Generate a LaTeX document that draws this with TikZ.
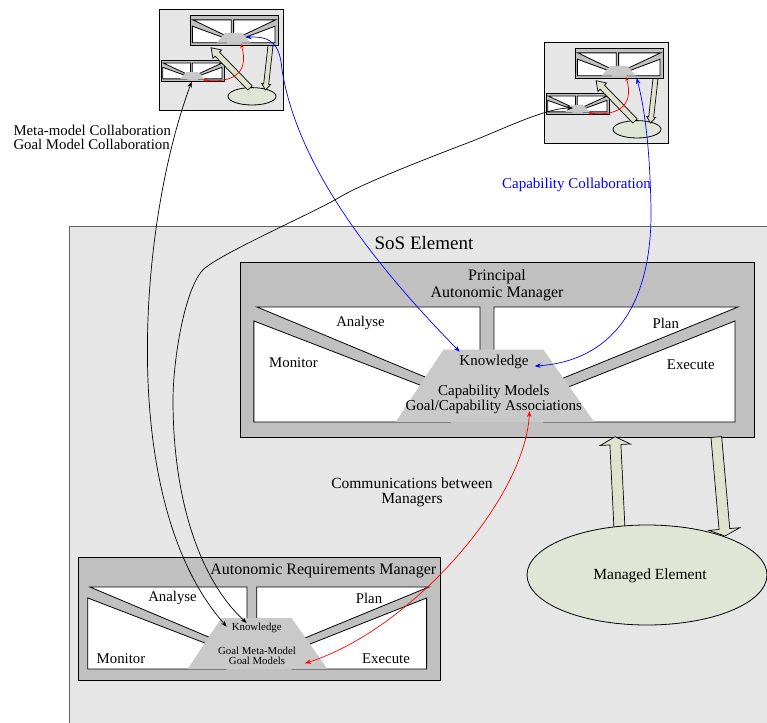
\documentclass[tikz,border=0pt]{standalone}
\usepackage{fontspec}
\setmainfont{Liberation Serif}
\usetikzlibrary{arrows.meta,shapes.geometric}
\definecolor{sosfill}{RGB}{230,230,230}
\definecolor{mgrfill}{RGB}{192,192,192}
\definecolor{trapfill}{RGB}{201,201,201}
\definecolor{elemfill}{RGB}{223,230,213}
\definecolor{barrowfill}{RGB}{223,227,205}
\definecolor{sosborder}{RGB}{100,100,100}
\tikzset{
  mgrbox/.style={fill=mgrfill, draw=black, line width=0.8pt},
  mgrwhite/.style={fill=white, draw=black, line width=0.8pt, line join=miter},
  trap/.style={fill=trapfill},
  bigarrow/.style={fill=barrowfill, draw=black, line width=0.7pt, line join=miter},
  link/.style={line width=0.7pt, {Stealth[length=6pt,width=4.5pt]}-{Stealth[length=6pt,width=4.5pt]}},
  minilink/.style={line width=0.7pt, {Stealth[length=4pt,width=3.5pt]}-{Stealth[length=4pt,width=3.5pt]}},
  txt/.style={inner sep=0pt, font=\fontsize{14.8}{17}\selectfont},
  ktxt/.style={inner sep=0pt, align=center, font=\fontsize{15}{14.4}\selectfont},
  stxt/.style={inner sep=0pt, align=center, font=\fontsize{10.8}{10.5}\selectfont},
  ttl/.style={inner sep=0pt, align=center, font=\fontsize{16}{16.6}\selectfont},
  elem/.style={fill=elemfill, draw=black, line width=0.8pt},
}
% manager: x0 y0 w h ya yb yk yc (fractions in percent)
\newcommand\mgr[8]{%
  \pgfmathsetmacro\msx{#3/100}\pgfmathsetmacro\msy{#4/100}%
  \pgfmathsetmacro\mA{#5}\pgfmathsetmacro\mB{#6}\pgfmathsetmacro\mK{#7}\pgfmathsetmacro\mC{#8}%
  \pgfmathsetmacro\mD{\mA+0.70*(\mC-\mA)}%
  \pgfmathsetmacro\mE{\mB+0.75*(\mC-\mB)}%
  \begin{scope}[shift={(#1,#2)},xscale=\msx,yscale=\msy]
    \filldraw[mgrbox] (0,0) rectangle (100,100);
    \filldraw[mgrwhite] (3.3,\mA) -- (46.7,\mA) -- (46.7,\mD) -- (40.9,\mD) -- cycle;
    \filldraw[mgrwhite] (2.7,\mB) -- (40.9,\mE) -- (40.9,\mC) -- (2.7,\mC) -- cycle;
    \filldraw[mgrwhite] (49.4,\mA) -- (96.9,\mA) -- (58.4,\mD) -- (49.4,\mD) -- cycle;
    \filldraw[mgrwhite] (96.3,\mB) -- (96.3,\mC) -- (59.1,\mC) -- (59.1,\mE) -- cycle;
    \fill[trap] (39.6,\mK) -- (59,\mK) -- (68.9,\mC) -- (30.3,\mC) -- cycle;
  \end{scope}}
% block arrow: x1 y1 x2 y2 shaft head headlen
\newcommand\barrow[7]{%
  \pgfmathsetmacro\bA{atan2(-(#4-#2),#3-#1)}%
  \pgfmathsetmacro\bL{veclen(#3-#1,#4-#2)}%
  \pgfmathsetmacro\bH{\bL-#7}%
  \begin{scope}[shift={(#1,#2)},rotate=\bA]
    \filldraw[bigarrow] (0,#5/2) -- (\bH,#5/2) -- (\bH,#6/2) -- (\bL,0) -- (\bH,-#6/2) -- (\bH,-#5/2) -- (0,-#5/2) -- cycle;
  \end{scope}}
\begin{document}
\begin{tikzpicture}[x=1pt,y=-1pt]
\useasboundingbox (0,0) rectangle (767,722);
\clip (0,0) rectangle (767,722);
\fill[white] (0,0) rectangle (767,722);

% SoS element
\filldraw[fill=sosfill, draw=sosborder, line width=1pt] (69,226) rectangle (790,740);
\node[inner sep=0pt, font=\fontsize{19}{20}\selectfont] (sos) at (424,243) {SoS Element};

% Principal autonomic manager
\mgr{240}{262}{514}{175}{25.7}{33.7}{50}{91.4}
\node[ttl] (pam) at (497,285) {Principal\\Autonomic Manager};
\node[txt] (pan) at (360.5,323.3) {Analyse};
\node[txt] (ppl) at (665.8,323.3) {Plan};
\node[txt] (pmo) at (293.5,362.7) {Monitor};
\node[txt] (pex) at (690.8,365) {Execute};
\node[ktxt] (pkn) at (494,361.7) {Knowledge};
\node[ktxt] (pcap) at (493.7,399.5) {Capability Models\\Goal/Capability Associations};

% Autonomic requirements manager
\mgr{78}{557}{362}{123}{24.4}{33.3}{49.6}{91}
\node[ttl] (arm) at (323.3,571) {Autonomic Requirements Manager};
\node[txt] (ran) at (172.5,598.3) {Analyse};
\node[txt] (rpl) at (369,598.3) {Plan};
\node[txt] (rmo) at (121,658.3) {Monitor};
\node[txt] (rex) at (386,658.3) {Execute};
\node[stxt] (rkn) at (256.7,628.3) {Knowledge};
\node[stxt] (rgoal) at (257,655.7) {Goal Meta-Model\\Goal Models};

% Managed element and its arrows
\barrow{619.5}{529}{615}{436.7}{11}{30}{8}
\barrow{716.3}{437}{725}{536}{10.7}{31}{7}
\node[elem, ellipse, minimum width=240pt, minimum height=100pt, inner sep=0pt] (me) at (647,575) {};
\node[inner sep=0pt, font=\fontsize{15.5}{17}\selectfont] (metxt) at (650,576) {Managed Element};

% mini diagram 1
\filldraw[fill=sosfill, draw=black, line width=0.8pt] (159,9) rectangle (283.3,110);
\mgr{190}{15.7}{88.3}{30}{14}{35}{58}{90}
\mgr{161}{60}{63.3}{21}{14}{35}{58}{90}
\node[elem, ellipse, minimum width=48pt, minimum height=17.4pt, inner sep=0pt] (e1) at (252,96.3) {};
\barrow{250}{88}{211}{47.7}{6}{12}{9}
\barrow{270.5}{45.7}{265.5}{90}{5}{9}{6}

% mini diagram 2
\filldraw[fill=sosfill, draw=black, line width=0.8pt] (544,42) rectangle (668,143.5);
\mgr{575}{48.7}{88.3}{30}{14}{35}{58}{90}
\mgr{546}{93}{63.3}{21}{14}{35}{58}{90}
\node[elem, ellipse, minimum width=48pt, minimum height=17.4pt, inner sep=0pt] (e2) at (637,129.3) {};
\barrow{635}{121}{596}{80.7}{6}{12}{9}
\barrow{655.5}{78.7}{650.5}{123}{5}{9}{6}

% labels
\node[inner sep=0pt, anchor=west, align=left, font=\fontsize{14.8}{14.3}\selectfont] (meta) at (13.3,137.2) {Meta-model Collaboration\\Goal Model Collaboration};
\node[inner sep=0pt, text=blue, font=\fontsize{15}{17}\selectfont] (capc) at (576.5,185) {Capability Collaboration};
\node[inner sep=0pt, align=center, font=\fontsize{15.5}{15.5}\selectfont] (comm) at (412,492.5) {Communications between\\Managers};

% connector end points
\coordinate (mk1) at (245.7,37.3);
\coordinate (pk1) at (459.7,351.7);
\coordinate (pk2) at (534.7,366);
\coordinate (mk2) at (636.7,78);
\coordinate (pk3) at (529.5,411);
\coordinate (rk3) at (305,663.3);
\coordinate (mk4) at (191.7,81.7);
\coordinate (rk4) at (226.7,626.7);
\coordinate (mk5) at (573,108);
\coordinate (rk5) at (246.7,623);
\coordinate (mr1a) at (241,44);
\coordinate (mr1b) at (203.3,80);
\coordinate (mr2a) at (626,77);
\coordinate (mr2b) at (588.3,113);

% connectors
\draw[link, blue] (mk1) .. controls (272,36) and (280,45) .. (282,70) .. controls (295,150) and (350,240) .. (pk1);
\draw[link, blue] (pk2) .. controls (600,362) and (652,320) .. (651,210) .. controls (650,150) and (645,110) .. (mk2);
\draw[link, red] (pk3) .. controls (525,500) and (410,630) .. (rk3);
\draw[link] (mk4) .. controls (140,220) and (115,500) .. (rk4);
\draw[link] (mk5) .. controls (545,108) and (500,130.5) .. (470,142) .. controls (440,153.5) and (365,182) .. (340,197) .. controls (315,212) and (225,251.5) .. (205,268) .. controls (185,284.5) and (173,360) .. (173,400) .. controls (173,500) and (200,580) .. (rk5);
\draw[minilink, red] (mr1a) .. controls (250,75) and (230,83) .. (mr1b);
\draw[minilink, red] (mr2a) .. controls (635,108) and (615,116) .. (mr2b);
\end{tikzpicture}
\end{document}
